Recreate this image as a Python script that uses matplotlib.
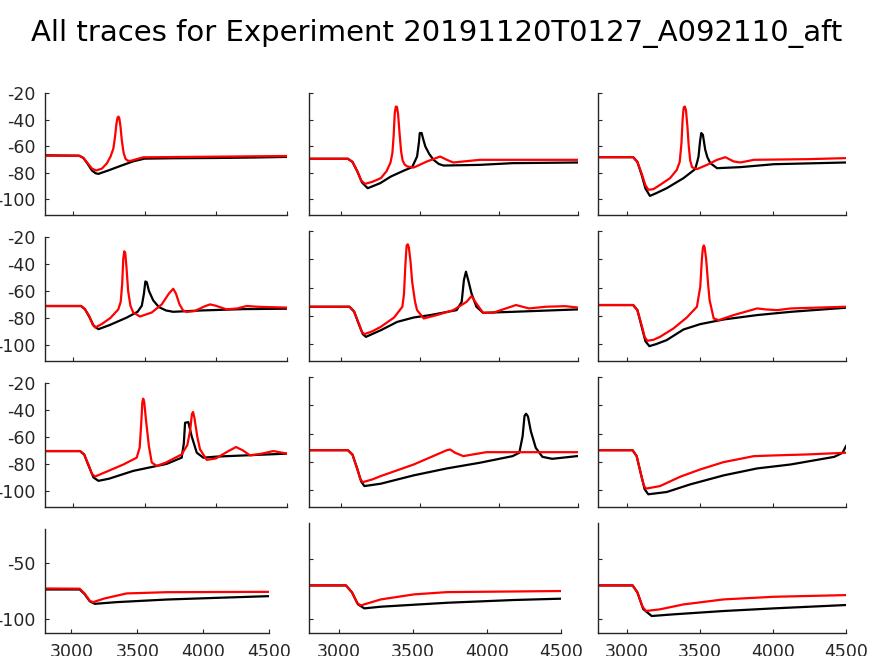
import matplotlib
matplotlib.use('Agg')
import matplotlib.pyplot as plt

plt.rcParams['font.family'] = ['DejaVu Sans']
plt.rcParams['axes.unicode_minus'] = False

title = 'All traces for Experiment 20191120T0127_A092110_aft'

# panel 1 (row 1, col 1)
p1_black_t = [2800, 3040, 3070, 3100, 3130, 3155, 3175, 3250, 3330, 3420, 3500, 3700, 4000, 4300, 4500]
p1_black_v = [-67.0, -67.3, -69, -73.5, -78.5, -80.5, -81, -78.2, -75, -71.5, -69.5, -69.2, -69, -68.6, -68.2]
p1_red_t = [2800, 3040, 3070, 3100, 3130, 3160, 3200, 3235, 3260, 3280, 3292, 3302, 3310, 3316, 3322,
            3330, 3340, 3352, 3365, 3380, 3400, 3440, 3490, 4000, 4500]
p1_red_v = [-67.3, -67.3, -69, -73, -77, -78.4, -77, -73, -68, -62, -53, -43, -38.5, -37.8, -39,
            -45, -56, -65, -69.5, -71, -71.2, -70, -68.5, -68, -67.5]

# panel 2 (row 1, col 2)
p2_black_t = [2805, 3046, 3075, 3105, 3135, 3171, 3250, 3317, 3400, 3452, 3483, 3495, 3500, 3512, 3520,
              3535, 3560, 3587, 3620, 3650, 3879, 4087, 4500]
p2_black_v = [-69.6, -69.6, -72, -79, -87.5, -91.8, -88, -83, -78.5, -75.9, -67.9, -57, -50.2, -50.2, -54,
              -60.3, -66, -70.4, -73.5, -74.7, -74.2, -72.9, -72.4]
p2_red_t = [2805, 3046, 3075, 3105, 3130, 3154, 3200, 3254, 3290, 3315, 3327, 3335, 3342, 3349, 3356,
            3363, 3372, 3382, 3392, 3405, 3421, 3462, 3546, 3629, 3671, 3712, 3879, 4500]
p2_red_v = [-69.6, -69.6, -72, -79, -86, -88.5, -87, -84.2, -79, -72.5, -65.3, -52, -35, -30.2, -30.5,
            -36, -50, -64, -71, -74, -75.4, -76.2, -71.6, -67.9, -70.4, -72.4, -70.4, -70.4]

# panel 3 (row 1, col 3)
p3_black_t = [2796, 3041, 3070, 3100, 3125, 3156, 3200, 3271, 3386, 3466, 3480, 3489, 3500, 3508, 3519,
              3535, 3550, 3570, 3616, 3776, 4006, 4500]
p3_black_v = [-68.4, -68.4, -72, -82, -92, -97.6, -95.5, -91.8, -84.2, -77.4, -72, -67.9, -56, -50.2, -51.5,
              -62.8, -68.5, -72.9, -76.7, -75.9, -73.7, -72.4]
p3_red_t = [2796, 3041, 3070, 3100, 3125, 3145, 3180, 3225, 3294, 3340, 3360, 3372, 3380, 3387, 3395,
            3403, 3412, 3422, 3432, 3445, 3478, 3547, 3616, 3673, 3730, 3776, 3868, 4236, 4500]
p3_red_v = [-68.4, -68.4, -72, -81, -89.5, -93, -92.5, -89.3, -84.2, -78, -72, -58, -40, -31, -30.2,
            -33, -44, -60, -71, -76, -77.4, -74.2, -70.4, -68.4, -71.6, -72.4, -70.4, -69.9, -69.1]

# panel 4 (row 2, col 1)
p4_black_t = [2800, 3053, 3080, 3110, 3140, 3175, 3250, 3374, 3450, 3480, 3495, 3505, 3515, 3530, 3560,
              3600, 3650, 3700, 3900, 4200, 4500]
p4_black_v = [-71.2, -71.2, -73.5, -79, -85.5, -88.4, -85.5, -79.8, -75.5, -71, -62, -53, -53.5, -60, -67,
              -72, -74.5, -75.5, -74.5, -73.5, -73.2]
p4_red_t = [2800, 3053, 3080, 3110, 3135, 3152, 3200, 3260, 3315, 3332, 3342, 3350, 3357, 3364, 3372,
            3384, 3400, 3420, 3467, 3550, 3620, 3670, 3701, 3720, 3745, 3770, 3795, 3850, 3920, 3959,
            4000, 4076, 4150, 4217, 4300, 4500]
p4_red_v = [-71.2, -71.2, -73.5, -78.5, -85, -87.2, -84.5, -80, -73.7, -68, -55, -36, -30.6, -32, -42,
            -60, -71, -76, -79, -76, -70, -62, -58.4, -62, -70, -74.5, -75.6, -75, -71.5, -70,
            -71, -73.7, -73, -71.2, -71.8, -72.4]

# panel 5 (row 2, col 2)
p5_black_t = [2805, 3056, 3085, 3115, 3140, 3160, 3254, 3358, 3462, 3567, 3733, 3765, 3779, 3792, 3806,
              3827, 3858, 3900, 4087, 4494]
p5_black_v = [-73.6, -73.6, -77, -86, -93, -94.9, -90.2, -84.3, -81.2, -79.5, -76, -70.1, -54.7, -48.8, -54.7,
              -64.2, -73.6, -77.9, -77.2, -75.5]
p5_red_t = [2805, 3056, 3085, 3115, 3135, 3150, 3200, 3254, 3338, 3390, 3400, 3410, 3417, 3424, 3431, 3442,
            3452, 3470, 3483, 3525, 3608, 3712, 3796, 3827, 3858, 3900, 3962, 4108, 4191, 4296, 4421, 4494]
p5_red_v = [-73.6, -73.6, -77, -85.5, -91.5, -93, -91, -87.8, -81.2, -73.6, -65, -42, -30.5, -29.4, -31.5, -42,
            -56, -70, -76, -81.9, -79.5, -76, -70.1, -66.1, -71.3, -77.9, -77.9, -72.4, -74.8, -73.6, -73.2, -74.1]

# panel 6 (row 2, col 3)
p6_black_t = [2796, 3041, 3070, 3100, 3125, 3152, 3200, 3271, 3386, 3501, 3662, 3891, 4121, 4500]
p6_black_v = [-72.4, -72.4, -76, -88, -98, -101.5, -100, -97.2, -89.7, -85.9, -82.6, -79.5, -77.2, -74.3]
p6_red_t = [2796, 3041, 3070, 3100, 3120, 3138, 3180, 3225, 3317, 3409, 3478, 3501, 3512, 3519, 3525, 3531,
            3542, 3555, 3565, 3593, 3627, 3730, 3891, 3949, 4029, 4121, 4500]
p6_red_v = [-72.4, -72.4, -76, -87, -95, -97.7, -97, -94.9, -89, -81.2, -73.6, -59.5, -40, -32, -30.2, -31.5,
            -40.6, -58, -68.9, -81.9, -83.1, -79.5, -74.8, -75.5, -76, -74.8, -73.6]

# panel 7 (row 3, col 1)
p7_black_t = [2800, 3046, 3075, 3105, 3140, 3175, 3250, 3420, 3655, 3760, 3775, 3784, 3807, 3830, 3866,
              3912, 4006, 4500]
p7_black_v = [-70.5, -70.5, -73, -81, -90, -92.6, -91, -85.2, -80, -75.4, -65, -49.5, -49, -59.4, -71.7,
              -75.4, -74.6, -72.4]
p7_red_t = [2800, 3046, 3075, 3105, 3130, 3152, 3250, 3350, 3444, 3465, 3476, 3484, 3490, 3497, 3510,
            3530, 3550, 3585, 3650, 3760, 3800, 3820, 3832, 3840, 3850, 3870, 3889, 3936, 4000, 4080,
            4142, 4190, 4240, 4320, 4404, 4500]
p7_red_v = [-70.5, -70.5, -73, -80.5, -87.5, -89.4, -85, -80.5, -75.4, -68, -50, -34, -31.6, -34, -48,
            -67, -79, -81.5, -79, -73, -66, -55, -43, -41.5, -46, -60, -69.2, -77, -76, -71,
            -67.5, -70, -73.7, -72.5, -70.5, -72.4]

# panel 8 (row 3, col 2)
p8_black_t = [2805, 3046, 3075, 3105, 3130, 3150, 3254, 3462, 3671, 3879, 4087, 4129, 4150, 4162, 4172, 4184,
              4202, 4233, 4275, 4337, 4494]
p8_black_v = [-71.8, -71.8, -75, -85, -94, -97.2, -95.5, -89.6, -84.7, -80.7, -76, -73.6, -61.9, -47.5, -46, -48,
              -58.4, -70.1, -76.5, -77.9, -76]
p8_red_t = [2805, 3046, 3075, 3105, 3125, 3140, 3200, 3254, 3462, 3671, 3692, 3723, 3775, 3837, 3921, 4494]
p8_red_v = [-71.8, -71.8, -75, -85, -92.5, -94.4, -92.5, -90.1, -81.9, -71.8, -71.3, -73.6, -76, -74.8, -73.2, -73.2]

# panel 9 (row 3, col 3)
p9_black_t = [2796, 3037, 3065, 3095, 3120, 3145, 3271, 3432, 3662, 3891, 4121, 4420, 4477, 4500]
p9_black_v = [-71.8, -71.8, -76, -89, -99.5, -103, -101.4, -96, -89.6, -84.7, -81.9, -76.5, -73.6, -68.9]
p9_red_t = [2796, 3037, 3065, 3095, 3115, 3129, 3225, 3363, 3501, 3662, 3776, 3868, 4006, 4236, 4500]
p9_red_v = [-71.8, -71.8, -76, -89, -97, -99, -97.2, -90.6, -85.4, -80.2, -77.9, -76, -75.5, -74.8, -73.6]

# panel 10 (row 4, col 1)
p10_black_t = [2800, 3063, 3100, 3140, 3178, 3343, 3723, 4104, 4500]
p10_black_v = [-73.5, -73.5, -77.5, -84, -86.2, -84.7, -82.4, -80.9, -79.4]
p10_red_t = [2800, 3063, 3100, 3140, 3165, 3250, 3419, 3723, 4500]
p10_red_v = [-72.6, -72.8, -77, -83.5, -84.7, -81.5, -77, -75.9, -75.6]

# panel 11 (row 4, col 2)
p11_black_t = [2805, 3049, 3090, 3130, 3173, 3285, 3733, 4182, 4500]
p11_black_v = [-72.2, -72.2, -78, -88, -91.4, -90, -86.7, -84.4, -83.3]
p11_red_t = [2805, 3049, 3090, 3125, 3150, 3285, 3509, 3733, 4500]
p11_red_v = [-72.2, -72.2, -78, -87, -88.9, -83.9, -79.7, -77.8, -76.9]

# panel 12 (row 4, col 3)
p12_black_t = [2796, 3037, 3070, 3110, 3168, 3317, 3662, 4006, 4500]
p12_black_v = [-72.2, -72.2, -78, -92, -97.8, -96.4, -93.6, -91.4, -88.6]
p12_red_t = [2796, 3037, 3070, 3105, 3129, 3225, 3386, 3662, 4006, 4500]
p12_red_v = [-72.2, -72.2, -78, -90, -93.6, -92.2, -88.1, -83.9, -81.7, -80.3]

panels = [
    (p1_black_t, p1_black_v, p1_red_t, p1_red_v),
    (p2_black_t, p2_black_v, p2_red_t, p2_red_v),
    (p3_black_t, p3_black_v, p3_red_t, p3_red_v),
    (p4_black_t, p4_black_v, p4_red_t, p4_red_v),
    (p5_black_t, p5_black_v, p5_red_t, p5_red_v),
    (p6_black_t, p6_black_v, p6_red_t, p6_red_v),
    (p7_black_t, p7_black_v, p7_red_t, p7_red_v),
    (p8_black_t, p8_black_v, p8_red_t, p8_red_v),
    (p9_black_t, p9_black_v, p9_red_t, p9_red_v),
    (p10_black_t, p10_black_v, p10_red_t, p10_red_v),
    (p11_black_t, p11_black_v, p11_red_t, p11_red_v),
    (p12_black_t, p12_black_v, p12_red_t, p12_red_v),
]

W, H = 874, 656
fig = plt.figure(figsize=(W / 100, H / 100), dpi=100)

# axes boxes in pixels (left, right, top, bottom)
col_left = [45, 309, 598]
col_right = [287, 578, 846]
col_right_last = [269, 561, 846]
row_top = [[93, 237, 383, 529], [93, 231, 377, 523], [93, 231, 377, 523]]
row_bottom = [215, 361, 507, 633]

grey = '#262626'
for i, (bt, bv, rt, rv) in enumerate(panels):
    r, c = divmod(i, 3)
    left = col_left[c]
    right = col_right_last[c] if r == 3 else col_right[c]
    top = row_top[c][r]
    bottom = row_bottom[r]
    ax = fig.add_axes([left / W, 1 - bottom / H, (right - left) / W, (bottom - top) / H])
    ax.plot(bt, bv, color='black', lw=1.6)
    ax.plot(rt, rv, color='red', lw=1.6)
    ax.set_xlim(2800, 4500)
    ax.set_ylim(-112, -20)
    ax.set_xticks([3000, 3500, 4000, 4500])
    if r == 3:
        ax.set_yticks([-100, -50])
    else:
        ax.set_yticks([-100, -80, -60, -40, -20])
    ax.spines['top'].set_visible(False)
    ax.spines['right'].set_visible(False)
    for s in ['left', 'bottom']:
        ax.spines[s].set_color(grey)
        ax.spines[s].set_linewidth(1.0)
    ax.tick_params(direction='in', length=3, width=0.8, colors=grey,
                   labelsize=12.5, pad=7)
    if c != 0:
        ax.set_yticklabels([])
    if r != 3:
        ax.set_xticklabels([])

fig.text(0.5, 1 - 34 / H, title, ha='center', va='center', fontsize=21, color='black')

fig.savefig('out.png', dpi=100)
